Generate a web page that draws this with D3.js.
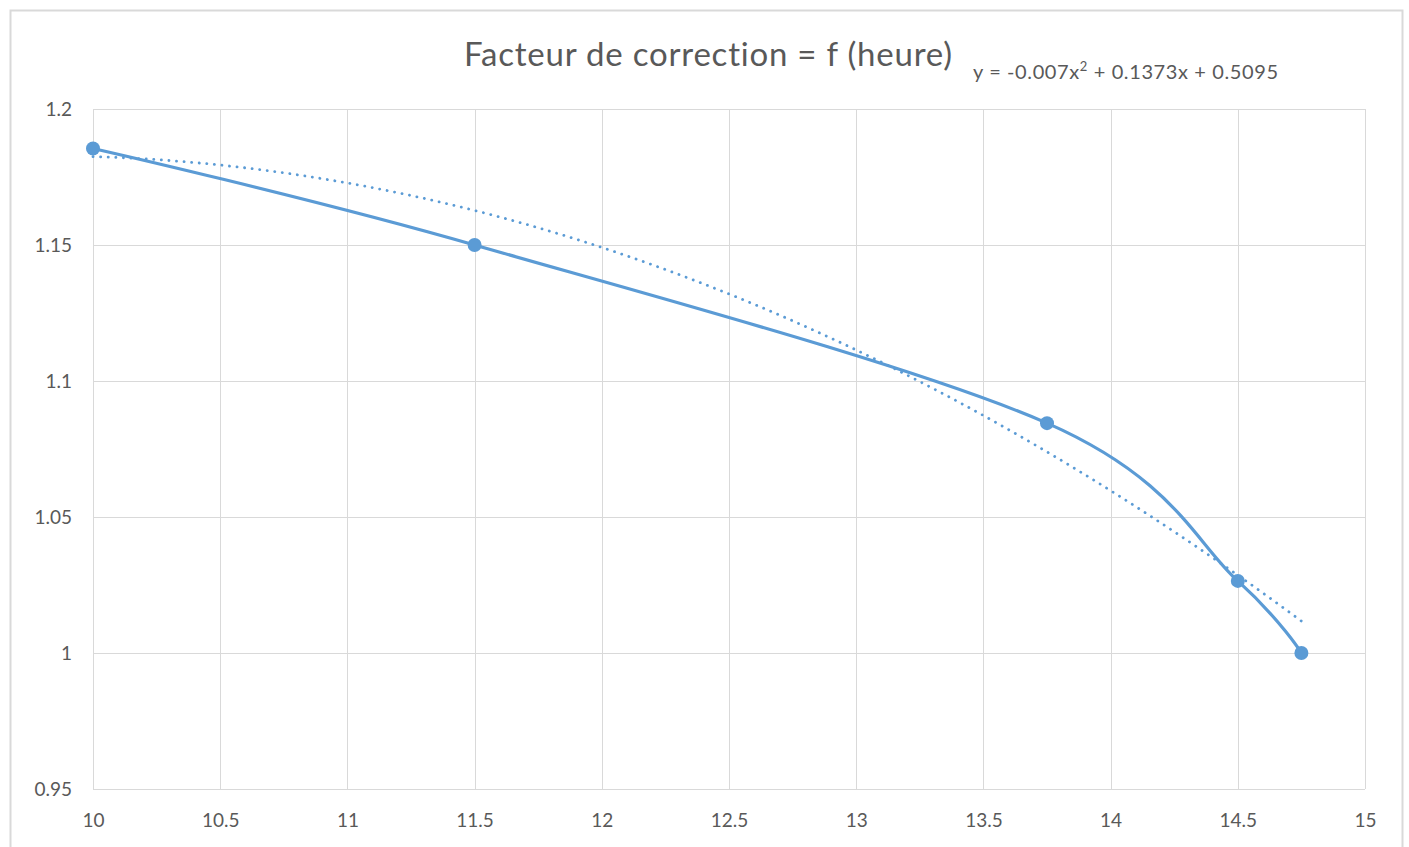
<!DOCTYPE html>
<html>
<head>
<meta charset="utf-8">
<script src="https://cdn.jsdelivr.net/npm/d3@7"></script>
<style>
  html, body { margin: 0; padding: 0; background: #fff; }
  svg { display: block; }
  text { font-family: Lato, "Open Sans", sans-serif; fill: #595959; font-variant-ligatures: none; }
</style>
</head>
<body>
<svg id="chart" width="1409" height="847"></svg>
<script>
// Measured points: hour vs correction factor
const heures = [10, 11.5, 13.75, 14.5, 14.75];
const facteurs = [1.1855, 1.15, 1.0845, 1.0265, 1.0];

// Polynomial trendline coefficients (a x² + b x + c)
const trendCoef = [-0.007, 0.1373, 0.5095];

const xTicks = [10, 10.5, 11, 11.5, 12, 12.5, 13, 13.5, 14, 14.5, 15];
const yTicks = [0.95, 1, 1.05, 1.1, 1.15, 1.2];

const titleText = "Facteur de correction = f (heure)";

const svg = d3.select("#chart");
const W = 1409, H = 847;
const margin = { left: 93, right: 44, top: 109, bottom: 58 };
const color = "#5B9BD5";
const font = "Lato, 'Open Sans', sans-serif";

// chart frame
svg.append("rect")
  .attr("x", 10.5).attr("y", 10.5)
  .attr("width", 1392).attr("height", 850)
  .attr("fill", "#fff").attr("stroke", "#d9d9d9").attr("stroke-width", 2);

const x = d3.scaleLinear().domain([10, 15]).range([margin.left, W - margin.right]);
const y = d3.scaleLinear().domain([0.95, 1.2]).range([H - margin.bottom, margin.top]);

// gridlines
const grid = svg.append("g");
grid.selectAll("line.h").data(yTicks).join("line")
  .attr("x1", x(10)).attr("x2", x(15))
  .attr("y1", d => Math.round(y(d)) + 0.5).attr("y2", d => Math.round(y(d)) + 0.5)
  .attr("stroke", "#d9d9d9").attr("stroke-width", 1);
grid.selectAll("line.v").data(xTicks).join("line")
  .attr("y1", y(0.95)).attr("y2", y(1.2))
  .attr("x1", d => Math.round(x(d)) + 0.5).attr("x2", d => Math.round(x(d)) + 0.5)
  .attr("stroke", "#d9d9d9").attr("stroke-width", 1);

// axes (labels only)
const xAxis = svg.append("g")
  .attr("transform", `translate(0,${y(0.95)})`)
  .call(d3.axisBottom(x).tickValues(xTicks).tickSize(0).tickPadding(25).tickFormat(d3.format("")));
xAxis.select(".domain").remove();
xAxis.selectAll("text").style("font-size", "19px").attr("fill", "#595959").style("font-family", font);

const yAxis = svg.append("g")
  .attr("transform", `translate(${x(10)},0)`)
  .call(d3.axisLeft(y).tickValues(yTicks).tickSize(0).tickPadding(21).tickFormat(d3.format("")));
yAxis.select(".domain").remove();
yAxis.selectAll("text").style("font-size", "19px").attr("fill", "#595959").style("font-family", font);

// trendline
const trendFn = v => trendCoef[0] * v * v + trendCoef[1] * v + trendCoef[2];
const trendPts = d3.range(0, 96).map(i => {
  const v = heures[0] + (heures[heures.length - 1] - heures[0]) * i / 95;
  return [v, trendFn(v)];
});
svg.append("path")
  .datum(trendPts)
  .attr("d", d3.line().x(d => x(d[0])).y(d => y(d[1])))
  .attr("fill", "none").attr("stroke", color)
  .attr("stroke-width", 2.8).attr("stroke-linecap", "round")
  .attr("stroke-dasharray", "0.1 7.5");

// smoothed data line
const data = heures.map((h, i) => [h, facteurs[i]]);
svg.append("path")
  .datum(data)
  .attr("d", d3.line().x(d => x(d[0])).y(d => y(d[1])).curve(d3.curveCatmullRom.alpha(0)))
  .attr("fill", "none").attr("stroke", color).attr("stroke-width", 3.2)
  .attr("stroke-linejoin", "round");

svg.selectAll("circle.pt").data(data).join("circle")
  .attr("cx", d => x(d[0])).attr("cy", d => y(d[1])).attr("r", 7)
  .attr("fill", color);

// title and equation
svg.append("text")
  .attr("x", 464).attr("y", 66)
  .attr("textLength", 488).attr("lengthAdjust", "spacing")
  .style("font-size", "33px")
  .text(titleText);

const eq = svg.append("text")
  .attr("x", 973).attr("y", 79)
  .attr("textLength", 305).attr("lengthAdjust", "spacing")
  .style("font-size", "20px");
eq.append("tspan").text("y = -0.007x");
eq.append("tspan").attr("dy", -8).style("font-size", "13px").text("2");
eq.append("tspan").attr("dy", 8).text(" + 0.1373x + 0.5095");
</script>
</body>
</html>
